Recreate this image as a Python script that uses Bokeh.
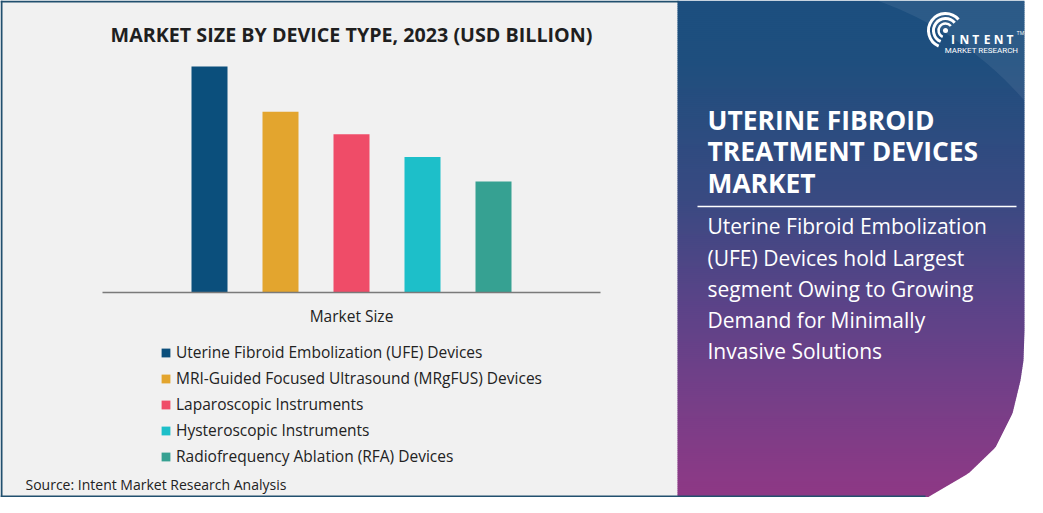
import numpy as np
from bokeh.plotting import figure
from bokeh.models import Range1d, ColumnDataSource
from bokeh.core.properties import value
from bokeh.embed import file_html
from bokeh.resources import INLINE

# ---------------- data ----------------
categories = [
    "Uterine Fibroid Embolization (UFE) Devices",
    "MRI-Guided Focused Ultrasound (MRgFUS) Devices",
    "Laparoscopic Instruments",
    "Hysteroscopic Instruments",
    "Radiofrequency Ablation (RFA) Devices",
]
values = [1.20, 0.96, 0.84, 0.72, 0.59]
colors = ["#0b4f7c", "#e3a52e", "#ef4c68", "#1dbfc9", "#36a192"]

chart_title = "MARKET SIZE BY DEVICE TYPE, 2023 (USD BILLION)"
axis_label = "Market Size"
source_note = "Source: Intent Market Research Analysis"
panel_heading = ["UTERINE FIBROID", "TREATMENT DEVICES", "MARKET"]
panel_body = [
    "Uterine Fibroid Embolization",
    "(UFE) Devices hold Largest",
    "segment Owing to Growing",
    "Demand for Minimally",
    "Invasive Solutions",
]
logo_letters = ["I", "N", "T", "E", "N", "T"]

# ---------------- layout constants (design space in pixels) ----------------
WR, HR = 1027, 497
def Y(y):
    return HR - y

FONT = "Open Sans"
BAR_X0, BAR_STEP, BAR_W = 209, 71, 36
BASE_Y = 292
PX_PER_UNIT = 188.3

p = figure(width=WR, height=HR,
           x_range=Range1d(0, WR), y_range=Range1d(0, HR),
           output_backend="svg", toolbar_location=None,
           x_axis_type=None, y_axis_type=None,
           min_border=0, outline_line_color=None,
           background_fill_color="white", border_fill_color="white")
p.grid.visible = False

# scales for the bar chart
p.extra_x_ranges = {"cat": Range1d(-BAR_X0 / BAR_STEP, (WR - BAR_X0) / BAR_STEP)}
p.extra_y_ranges = {"val": Range1d(-(HR - BASE_Y) / PX_PER_UNIT, BASE_Y / PX_PER_UNIT)}

# left panel background
p.quad(left=0, right=679, bottom=0, top=HR, fill_color="#f1f1f1", line_color=None)

# right panel gradient, curved bottom-right edge
PANEL_L, PANEL_R = 677, 1024
curve_y = [0, 330, 360, 380, 413, 447, 473, 497, 508]
curve_x = [PANEL_R, PANEL_R, 1023, 1020, 1012, 995, 968, 927, 880]
stop_y = [0, 60, 200, 300, 400, 480, 513]
stop_r = [28, 31, 58, 90, 119, 139, 145]
stop_g = [80, 79, 74, 68, 63, 58, 57]
stop_b = [128, 126, 130, 136, 136, 134, 133]
STEP = 2.0
ys = np.arange(0, HR, STEP)
ym = ys + STEP / 2
rr = np.interp(ym, stop_y, stop_r)
gg = np.interp(ym, stop_y, stop_g)
bb = np.interp(ym, stop_y, stop_b)
grad_cols = ["#%02x%02x%02x" % (int(r), int(g), int(b)) for r, g, b in zip(rr, gg, bb)]
xs_list, ys_list = [], []
for v in ys:
    t, b = v, min(v + STEP + 0.6, HR)
    rt, rb = float(np.interp(t, curve_y, curve_x)), float(np.interp(b, curve_y, curve_x))
    xs_list.append([PANEL_L, rt, rb, PANEL_L])
    ys_list.append([Y(t), Y(t), Y(b), Y(b)])
p.patches(xs=xs_list, ys=ys_list, fill_color=grad_cols, line_color=None)

# subtle lighter arc at top right
arc_y = np.linspace(0, 120, 30)
arc_x = np.minimum(760 + np.sqrt(350 ** 2 - (330 - arc_y) ** 2), PANEL_R)
p.patch(x=[float(v) for v in arc_x] + [PANEL_R], y=[Y(float(v)) for v in arc_y] + [Y(0)],
        fill_color="white", fill_alpha=0.07, line_color=None)

# outer border
bc = "#22506f"
p.segment(x0=[1, 0, 0], y0=[Y(0), Y(1), Y(HR - 1)], x1=[1, 678, 925], y1=[Y(HR), Y(1), Y(HR - 1)],
          line_color=bc, line_width=2)

# ---------------- bar chart ----------------
src = ColumnDataSource(dict(idx=list(range(len(categories))), value=values,
                            color=colors, category=categories))
p.vbar(x="idx", top="value", bottom=0, width=BAR_W / BAR_STEP, source=src,
       fill_color="color", line_color=None, legend_field="category",
       x_range_name="cat", y_range_name="val")

# baseline (axis line)
p.segment(x0=[102], y0=[Y(BASE_Y)], x1=[600], y1=[Y(BASE_Y)], line_color="#7a7a7a", line_width=1.5)

p.text(x=[351], y=[Y(34)], text=[chart_title], text_align="center", text_baseline="middle",
       text_font=value(FONT), text_font_style="bold", text_font_size="19.7px", text_color="#1f1f1f")
p.text(x=[351], y=[Y(315)], text=[axis_label], text_align="center", text_baseline="middle",
       text_font=value(FONT), text_font_size="15.5px", text_color="#222222")
p.text(x=[25], y=[Y(484)], text=[source_note], text_align="left", text_baseline="middle",
       text_font=value(FONT), text_font_size="14px", text_color="#222222")

leg = p.legend[0]
leg.location = (160, 30)
leg.orientation = "vertical"
leg.background_fill_alpha = 0
leg.border_line_color = None
leg.padding = 0
leg.margin = 0
leg.spacing = 4
leg.label_height = 22
leg.glyph_height = 11
leg.glyph_width = 11
leg.label_standoff = 5
leg.label_text_font = FONT
leg.label_text_font_size = "15.5px"
leg.label_text_color = "#222222"

# ---------------- right panel text ----------------
p.text(x=[707] * 3, y=[Y(119), Y(150), Y(182)], text=panel_heading, text_align="left",
       text_baseline="middle", text_font=value(FONT), text_font_style="bold",
       text_font_size="26.4px", text_color="white")
p.segment(x0=[697], y0=[Y(206)], x1=[1016], y1=[Y(206)], line_color="white", line_width=1.5)
p.text(x=[707] * 5, y=[Y(225), Y(257), Y(288), Y(319), Y(350)], text=panel_body,
       text_align="left", text_baseline="middle", text_font=value(FONT),
       text_font_size="21px", text_color="white")

# logo
p.arc(x=[945] * 3, y=[Y(30)] * 3, radius=[7, 12, 17], start_angle=0.7, end_angle=4.3,
      line_color="white", line_width=[2.5, 3, 3])
p.scatter(x=[945], y=[Y(30)], size=5, fill_color="white", line_color=None)
p.text(x=[952.5 + i * 11.4 for i in range(6)], y=[Y(39)] * 6, text=logo_letters,
       text_align="center", text_baseline="middle", text_font=value(FONT),
       text_font_style="bold", text_font_size="12px", text_color="white")
p.text(x=[981], y=[Y(49.5)], text=["MARKET RESEARCH"], text_align="center", text_baseline="middle",
       text_font=value("Roboto"), text_font_size="8px", text_color="white")
p.text(x=[1020], y=[Y(32)], text=["TM"], text_align="center", text_baseline="middle",
       text_font=value(FONT), text_font_size="5px", text_color="white")

open("out.html", "w").write(file_html(p, INLINE))
